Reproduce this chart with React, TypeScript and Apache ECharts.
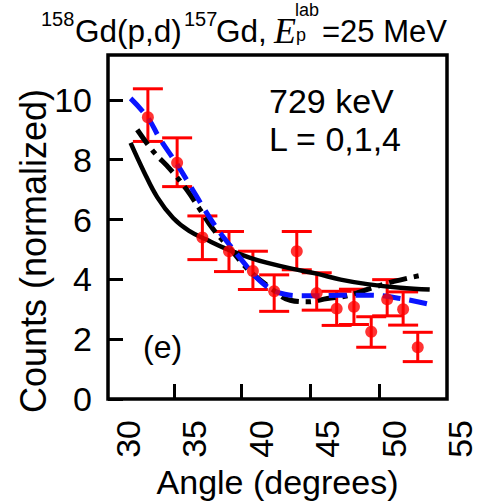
import React, { useEffect, useRef } from "react";
import * as echarts from "echarts";

// Measured data points (angle in degrees, normalized counts) and error limits
const angles = [31.5, 33.7, 35.6, 37.6, 39.4, 41.0, 42.7, 44.2, 45.7, 47.0, 48.3, 49.5, 50.7, 51.8];
const counts = [9.42, 7.9, 5.4, 4.94, 4.28, 3.6, 4.94, 3.54, 3.02, 3.08, 2.25, 3.33, 3.0, 1.73];
const errLow = [8.61, 7.1, 4.66, 4.26, 3.66, 2.93, 4.32, 2.97, 2.46, 2.49, 1.73, 2.78, 2.47, 1.25];
const errHigh = [10.37, 8.73, 6.12, 5.6, 4.94, 4.15, 5.6, 4.22, 3.6, 3.67, 2.75, 3.99, 3.58, 2.23];

// Calculated curves
const solidAngles = [30.2, 31.2, 32.2, 33.4, 34.6, 35.9, 37.4, 39.2, 40.5, 42.4, 44.2, 46.0, 48.0, 50.5, 52.7];
const solidVals = [8.56, 7.6, 6.75, 6.05, 5.62, 5.33, 5.02, 4.72, 4.55, 4.35, 4.19, 3.99, 3.84, 3.72, 3.66];

const dashDotAngles = [30.7, 31.9, 33.2, 34.4, 35.4, 36.4, 37.7, 39.1, 40.8, 42.2, 43.5, 45.0, 46.5, 48.2, 50.0, 52.0];
const dashDotVals = [9.0, 8.28, 7.67, 7.01, 6.35, 5.68, 5.02, 4.3, 3.69, 3.3, 3.25, 3.36, 3.45, 3.69, 3.93, 4.13];

const blueAngles = [30.2, 31.5, 32.4, 33.7, 34.7, 35.7, 36.7, 37.7, 38.7, 39.7, 40.8, 41.8, 43.0, 44.5, 46.0, 48.2, 50.5, 53.0];
const blueVals = [10.05, 9.4, 8.7, 7.84, 7.12, 6.38, 5.7, 5.12, 4.57, 4.05, 3.66, 3.5, 3.45, 3.45, 3.47, 3.47, 3.36, 3.13];

// Axis ticks and labels
const xLabelValues = [30, 35, 40, 45, 50, 55];
const xTickValues = [33.5, 38.5, 43.7, 48.9];
const yLabelValues = [0, 2, 4, 6, 8, 10];

const FONT = "'Liberation Sans', Arial, sans-serif";

export default function App() {
  const ref = useRef<HTMLDivElement>(null);

  useEffect(() => {
    if (!ref.current) return;
    const chart = echarts.init(ref.current, null, { renderer: "svg" });

    const pts = angles.map((a, i) => [a, counts[i]]);
    const bars = angles.map((a, i) => [a, errLow[i], errHigh[i]]);
    const pair = (xs: number[], ys: number[]) => xs.map((x, i) => [x, ys[i]]);

    const gridLeft = 108;
    const gridTop = 55;
    const gridW = 339;
    const gridH = 346;
    const xMin = 28.5;
    const xMax = 54;
    const pxPerDeg = gridW / (xMax - xMin);
    const labelMax = 55.5;

    const option: any = {
      animation: false,
      backgroundColor: "#ffffff",
      grid: [
        {
          left: gridLeft,
          top: gridTop,
          width: gridW,
          height: gridH,
          show: true,
          borderColor: "#000",
          borderWidth: 3.5,
          backgroundColor: "transparent",
        },
        {
          left: gridLeft,
          top: gridTop,
          width: (labelMax - xMin) * pxPerDeg,
          height: gridH,
          show: false,
        },
      ],
      xAxis: [
        {
          type: "value",
          gridIndex: 0,
          min: xMin,
          max: xMax,
          axisLine: { show: false },
          axisTick: {
            show: true,
            inside: true,
            length: 15,
            customValues: xTickValues,
            lineStyle: { color: "#000", width: 3 },
          },
          axisLabel: { show: false },
          splitLine: { show: false },
          name: "Angle (degrees)",
          nameLocation: "middle",
          nameGap: 66,
          nameTextStyle: { fontFamily: FONT, fontSize: 34, color: "#000" },
        },
        {
          type: "value",
          gridIndex: 1,
          min: xMin,
          max: labelMax,
          axisLine: { show: false },
          axisTick: { show: false },
          splitLine: { show: false },
          axisLabel: {
            show: true,
            rotate: 90,
            margin: 19,
            customValues: xLabelValues,
            fontFamily: FONT,
            fontSize: 34,
            color: "#000",
          },
        },
      ],
      yAxis: [
        {
          type: "value",
          gridIndex: 0,
          min: 0,
          max: 11.5,
          axisLine: { show: false },
          axisTick: {
            show: true,
            inside: true,
            length: 15,
            customValues: yLabelValues,
            lineStyle: { color: "#000", width: 3 },
          },
          axisLabel: {
            show: true,
            margin: 16,
            customValues: yLabelValues,
            fontFamily: FONT,
            fontSize: 34,
            color: "#000",
          },
          splitLine: { show: false },
        },
        {
          type: "value",
          gridIndex: 1,
          min: 0,
          max: 11.5,
          show: false,
        },
      ],
      graphic: [
        { type: "text", x: 41, y: 19, style: { text: "158", fontFamily: FONT, fontSize: 20, fill: "#000", align: "left", verticalAlign: "middle" } },
        { type: "text", x: 75, y: 31, style: { text: "Gd(p,d)", fontFamily: FONT, fontSize: 31.5, fill: "#000", align: "left", verticalAlign: "middle" } },
        { type: "text", x: 184, y: 19, style: { text: "157", fontFamily: FONT, fontSize: 20, fill: "#000", align: "left", verticalAlign: "middle" } },
        { type: "text", x: 216, y: 31, style: { text: "Gd,", fontFamily: FONT, fontSize: 31.5, fill: "#000", align: "left", verticalAlign: "middle" } },
        { type: "text", x: 274, y: 31, style: { text: "E", fontFamily: "'Liberation Serif', 'Times New Roman', serif", fontStyle: "italic", fontSize: 36, fill: "#000", align: "left", verticalAlign: "middle" } },
        { type: "text", x: 295, y: 10, style: { text: "lab", fontFamily: FONT, fontSize: 18, fill: "#000", align: "left", verticalAlign: "middle" } },
        { type: "text", x: 296, y: 35, style: { text: "p", fontFamily: FONT, fontSize: 18, fill: "#000", align: "left", verticalAlign: "middle" } },
        { type: "text", x: 322, y: 31, style: { text: "=25 MeV", fontFamily: FONT, fontSize: 31, fill: "#000", align: "left", verticalAlign: "middle" } },
        { type: "text", x: 269, y: 101, style: { text: "729 keV", fontFamily: FONT, fontSize: 34, fill: "#000", align: "left", verticalAlign: "middle" } },
        { type: "text", x: 269, y: 139, style: { text: "L = 0,1,4", fontFamily: FONT, fontSize: 34, fill: "#000", align: "left", verticalAlign: "middle" } },
        { type: "text", x: 143, y: 347, style: { text: "(e)", fontFamily: FONT, fontSize: 32, fill: "#000", align: "left", verticalAlign: "middle" } },
        {
          type: "text",
          x: 33,
          y: 251,
          rotation: Math.PI / 2,
          style: { text: "Counts (normalized)", fontFamily: FONT, fontSize: 36, fill: "#000", align: "center", verticalAlign: "middle" },
        },
      ],
      series: [
        {
          type: "custom",
          xAxisIndex: 0,
          yAxisIndex: 0,
          data: bars,
          z: 2,
          renderItem: (params: any, api: any) => {
            const x = api.value(0);
            const lo = api.coord([x, api.value(1)]);
            const hi = api.coord([x, api.value(2)]);
            const w = 15;
            const st = { stroke: "#ff0000", lineWidth: 3 };
            return {
              type: "group",
              children: [
                { type: "line", shape: { x1: lo[0], y1: lo[1], x2: hi[0], y2: hi[1] }, style: st },
                { type: "line", shape: { x1: hi[0] - w, y1: hi[1], x2: hi[0] + w, y2: hi[1] }, style: st },
                { type: "line", shape: { x1: lo[0] - w, y1: lo[1], x2: lo[0] + w, y2: lo[1] }, style: st },
              ],
            };
          },
        },
        {
          type: "line",
          data: pair(solidAngles, solidVals),
          smooth: 0.4,
          showSymbol: false,
          z: 3,
          lineStyle: { color: "#000", width: 4.5 },
        },
        {
          type: "line",
          data: pair(dashDotAngles, dashDotVals),
          smooth: 0.4,
          showSymbol: false,
          z: 3,
          lineStyle: { color: "#000", width: 5, type: [18, 7, 5, 7] },
        },
        {
          type: "line",
          data: pair(blueAngles, blueVals),
          smooth: 0.4,
          showSymbol: false,
          z: 3,
          lineStyle: { color: "#0a14ff", width: 5, type: [18, 9] },
        },
        {
          type: "scatter",
          data: pts,
          symbol: "circle",
          symbolSize: 12,
          z: 4,
          itemStyle: { color: "#ff0000" },
        },
      ],
    };

    chart.setOption(option);
    return () => chart.dispose();
  }, []);

  return (
    <div
      ref={ref}
      style={{ position: "fixed", left: 0, top: 0, width: 484, height: 504, background: "#fff" }}
    />
  );
}
